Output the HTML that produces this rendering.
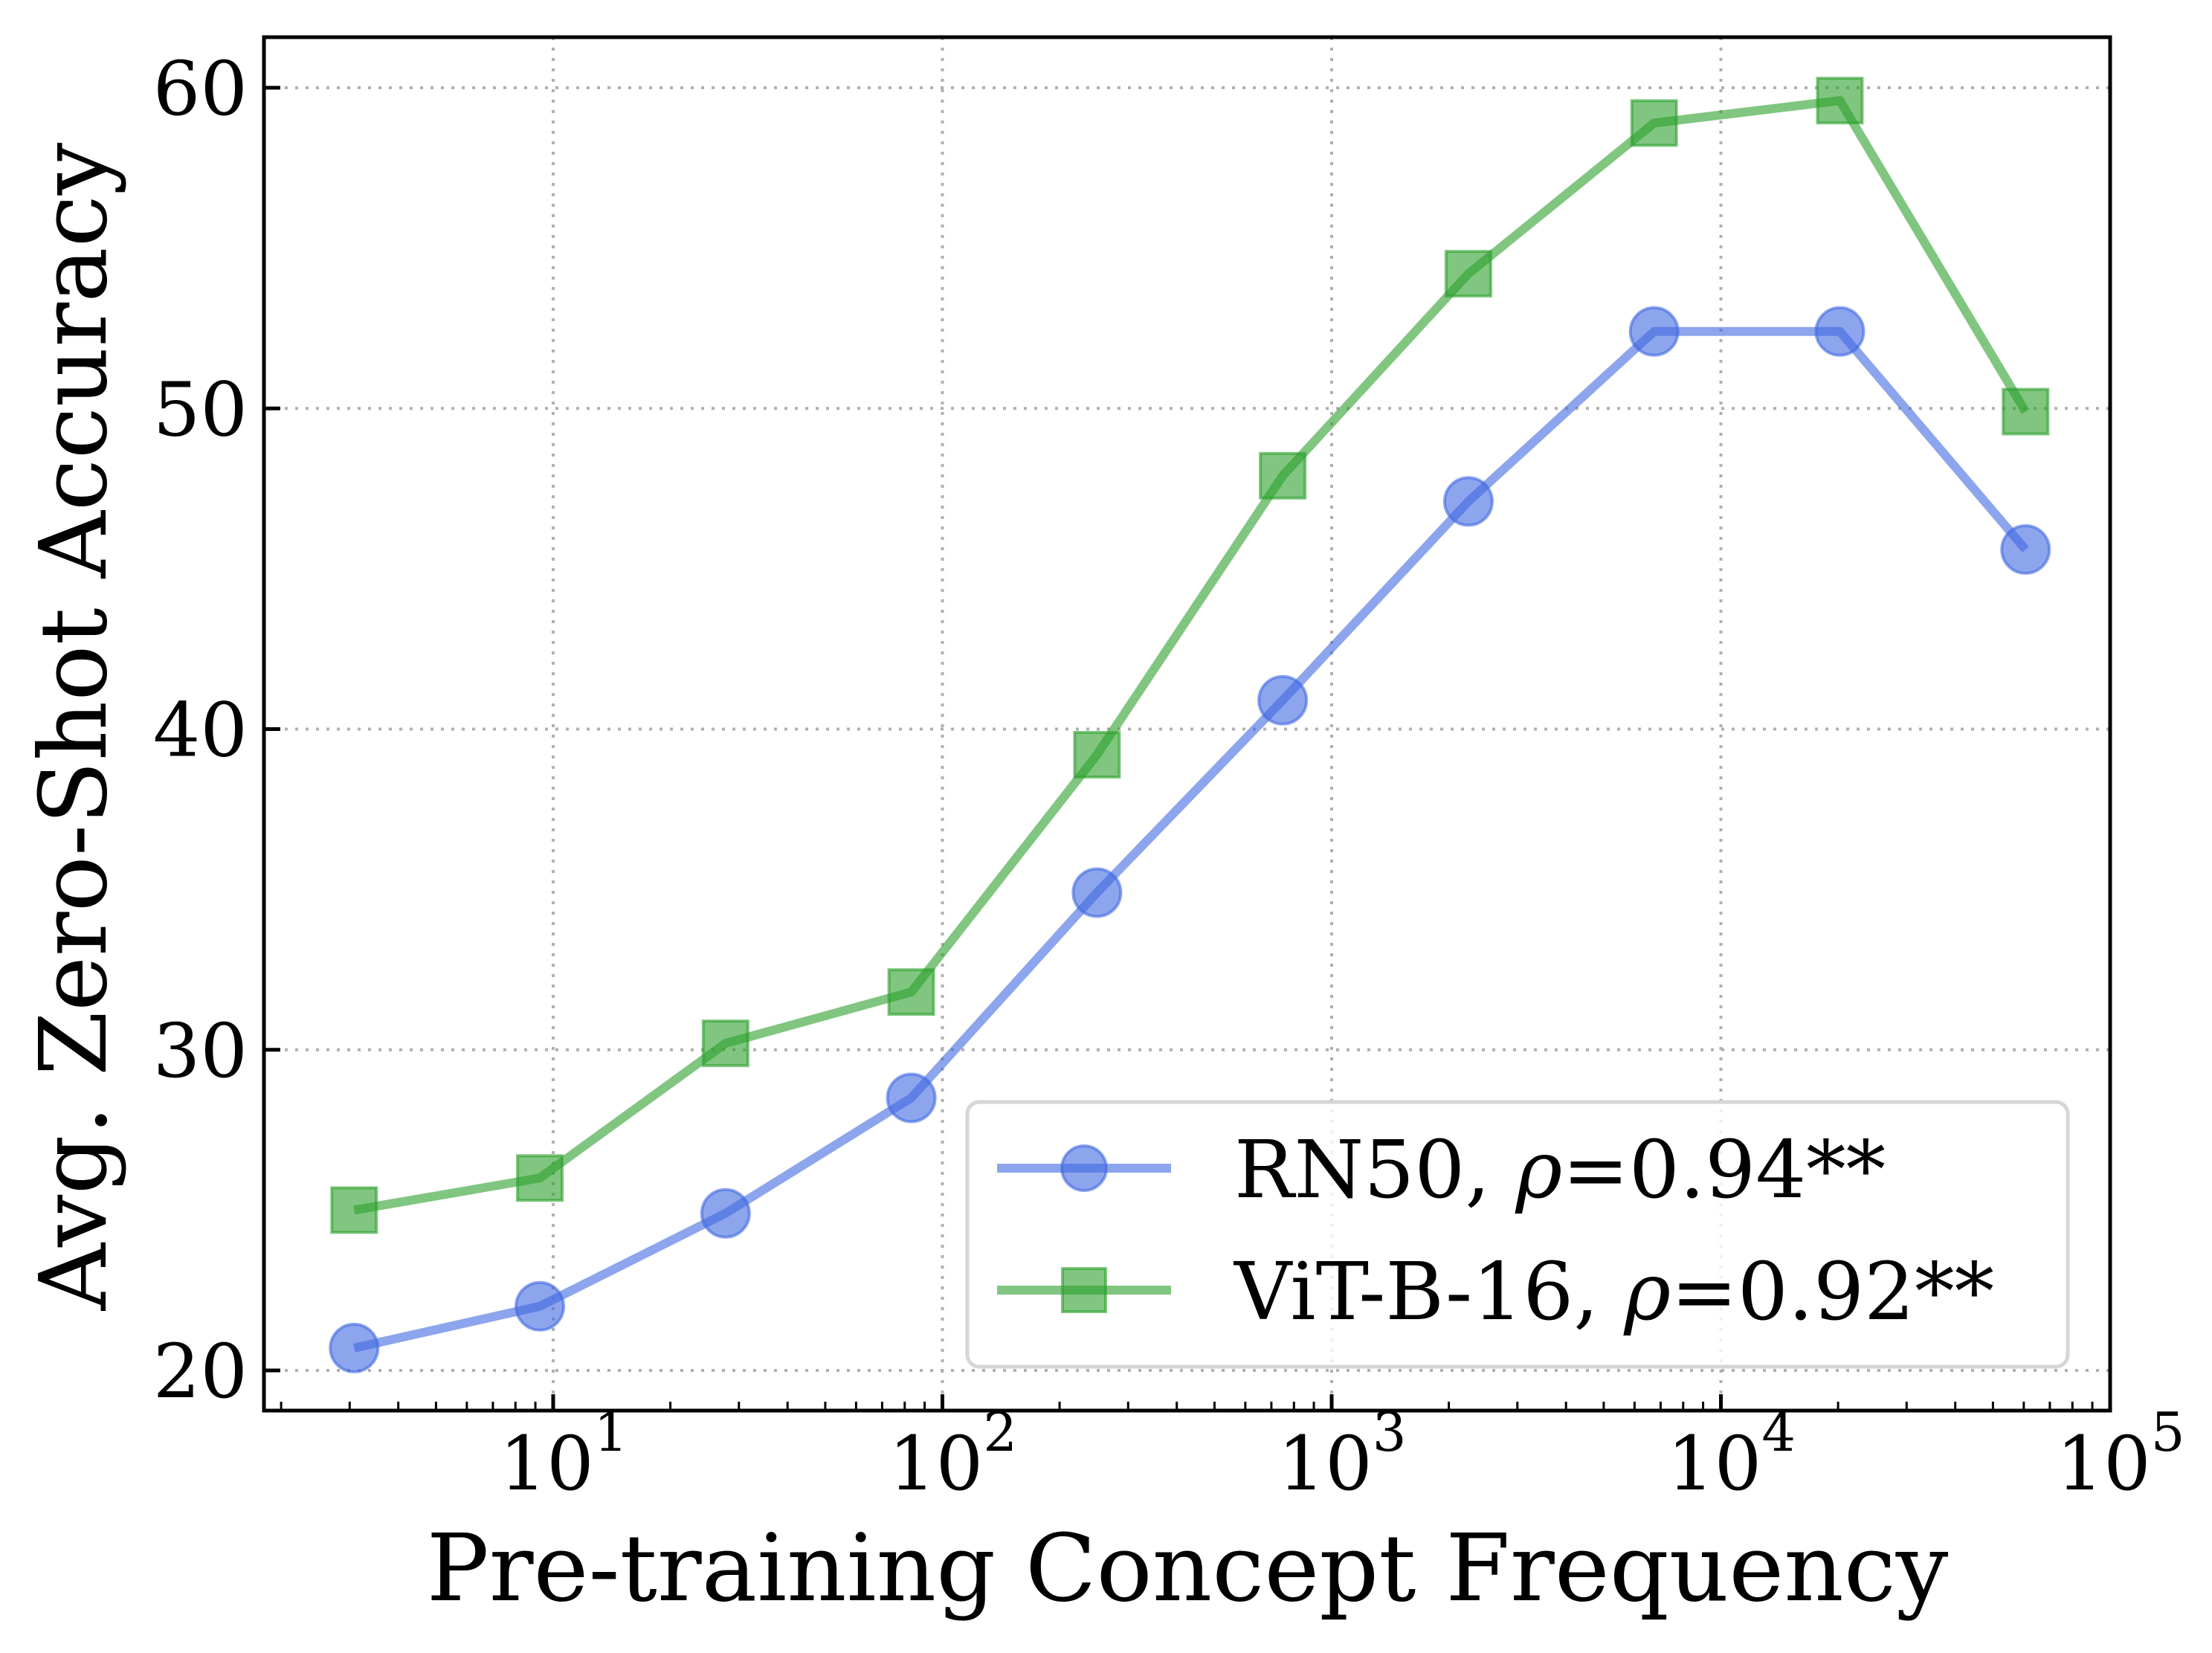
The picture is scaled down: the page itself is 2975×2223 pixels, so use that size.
<!DOCTYPE html>
<html><head><meta charset="utf-8"><style>
html,body{margin:0;padding:0;background:#fff;}
svg{display:block;font-family:"DejaVu Serif","Liberation Serif",serif;}
</style></head><body>
<svg id="chart" width="2975" height="2223" viewBox="0 0 2975 2223" xmlns="http://www.w3.org/2000/svg">
<g id="grid"></g>
<g id="series"></g>
<g id="axes"></g>
<g id="legend">
  <rect x="1301" y="1482" width="1480" height="356" rx="16" fill="#fff" fill-opacity="0.8" stroke="#d6d6d6" stroke-width="5"/>
  <line x1="1341" y1="1571" x2="1575" y2="1571" stroke="#4169e1" stroke-opacity="0.6" stroke-width="12"/>
  <circle cx="1458" cy="1571" r="30" fill="#4169e1" fill-opacity="0.6" stroke="#4169e1" stroke-opacity="0.6" stroke-width="4"/>
  <text x="1660" y="1610" font-size="107">RN50, <tspan font-style="italic">ρ</tspan>=0.94**</text>
  <line x1="1341" y1="1735" x2="1575" y2="1735" stroke="#2ca02c" stroke-opacity="0.6" stroke-width="12"/>
  <rect x="1429" y="1706" width="58" height="58" fill="#2ca02c" fill-opacity="0.6" stroke="#2ca02c" stroke-opacity="0.6" stroke-width="4"/>
  <text x="1660" y="1774" font-size="107">ViT-B-16, <tspan font-style="italic">ρ</tspan>=0.92**</text>
</g>
<text x="1597" y="2152" font-size="125" text-anchor="middle">Pre-training Concept Frequency</text>
<text transform="translate(142,977) rotate(-90)" font-size="125" text-anchor="middle">Avg. Zero-Shot Accuracy</text>
</svg>
<script>
const xValues = [3, 9, 27, 81, 243, 729, 2187, 6561, 19683, 59049];
const rn50 = [20.7, 22.0, 24.9, 28.5, 34.9, 40.9, 47.1, 52.4, 52.4, 45.6];
const vit = [25.0, 26.0, 30.2, 31.8, 39.2, 47.9, 54.2, 58.9, 59.6, 49.9];
const yTicks = [20, 30, 40, 50, 60];
const xTickExps = [1, 2, 3, 4, 5];

const NS = "http://www.w3.org/2000/svg";
const L = 355, R = 2838, T = 50, B = 1897;
const X0 = 1, PX0 = 744, DEC = (2838 - 744) / 4;
function xs(v){ return PX0 + (Math.log10(v) - X0) * DEC + 6; }
function ys(v){ return 118 + (60 - v) * 43.125; }
function mk(tag, attrs, parent){
  const e = document.createElementNS(NS, tag);
  for (const k in attrs) e.setAttribute(k, attrs[k]);
  parent.appendChild(e); return e;
}
function xa(v){ return PX0 + (Math.log10(v) - X0) * DEC; }
const grid = document.getElementById('grid');
const axes = document.getElementById('axes');
const series = document.getElementById('series');

yTicks.forEach(t => {
  const y = ys(t);
  const g = mk('line', {x1:L, x2:R, y1:y, y2:y, stroke:'#b0b0b0', 'stroke-width':4, 'stroke-dasharray':'4 10'}, grid);
  
  
  const tk = mk('line', {x1:L, x2:L+22, y1:y, y2:y, stroke:'#000', 'stroke-width':5}, axes);
  
  
  const lb = mk('text', {x:L-22, y:y+36, 'font-size':100, 'text-anchor':'end'}, axes);
  lb.textContent = t;
  
  
});
xTickExps.forEach(e => {
  const x = xa(Math.pow(10, e));
  if (e < 5) {
    const g = mk('line', {x1:x, x2:x, y1:T, y2:B, stroke:'#b0b0b0', 'stroke-width':4, 'stroke-dasharray':'4 10'}, grid);
    
    
  }
  const tk = mk('line', {x1:x, x2:x, y1:B, y2:B-22, stroke:'#000', 'stroke-width':5}, axes);
  
  
  const lb = mk('text', {x:x+14, y:2003, 'font-size':100, 'text-anchor':'middle'}, axes);
  lb.innerHTML = '10<tspan dy="-52" font-size="72">' + e + '</tspan>';
  
  
});
for (let d = 0; d <= 4; d++) {
  for (let m = 2; m <= 9; m++) {
    const v = m * Math.pow(10, d);
    const x = xa(v);
    if (x < L || x > R) continue;
    const tk = mk('line', {x1:x, x2:x, y1:B, y2:B-12, stroke:'#000', 'stroke-width':3}, axes);
    
    
  }
}
const frame = mk('rect', {x:L, y:T, width:R-L, height:B-T, fill:'none', stroke:'#000', 'stroke-width':5}, axes);



function drawSeries(vals, color, shape, name){
  const pts = xValues.map((x,i) => xs(x) + ',' + ys(vals[i])).join(' ');
  const pl = mk('polyline', {points:pts, fill:'none', stroke:color, 'stroke-opacity':0.6, 'stroke-width':12, 'stroke-linejoin':'round'}, series);
  
  
  xValues.forEach((x,i) => {
    const cx = xs(x), cy = ys(vals[i]);
    let m;
    if (shape === 'circle') m = mk('circle', {cx:cx, cy:cy, r:32, fill:color, 'fill-opacity':0.6, stroke:color, 'stroke-opacity':0.6, 'stroke-width':4}, series);
    else m = mk('rect', {x:cx-30, y:cy-30, width:60, height:60, fill:color, 'fill-opacity':0.6, stroke:color, 'stroke-opacity':0.6, 'stroke-width':4}, series);
    
    
  });
}
drawSeries(rn50, '#4169e1', 'circle', 'rn50');
drawSeries(vit, '#2ca02c', 'square', 'vit-b-16');
</script>
</body></html>
